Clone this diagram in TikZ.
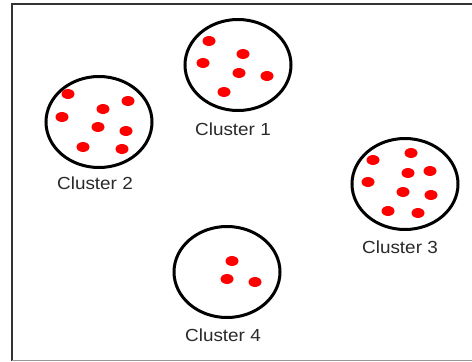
\documentclass[tikz,border=0pt]{standalone}
\usepackage{fontspec}
\setmainfont{Liberation Sans}
\usetikzlibrary{shapes.geometric}
\definecolor{labelgray}{HTML}{2A2A2A}
\begin{document}
\begin{tikzpicture}[x=1pt,y=-1pt,
  cluster/.style={ellipse,draw=black,line width=3pt,fill=white,minimum width=106pt,minimum height=91pt,inner sep=0pt},
  pt/.style={ellipse,fill=red,minimum width=13pt,minimum height=10pt,inner sep=0pt},
  lbl/.style={text=labelgray,font=\fontsize{17.5}{18}\selectfont,inner sep=0pt,xscale=1.08}]
\useasboundingbox (0,0) rectangle (472,362);
\fill[white] (0,0) rectangle (472,362);
\draw[line width=2pt,black!80] (12,360.5) |- (472,3.5);
\draw[line width=1.5pt,black!40] (12,360.5) -- (472,360.5);
% clusters
\node[cluster] (c1) at (238,65) {};
\node[cluster] (c2) at (99,122) {};
\node[cluster] (c3) at (405,184) {};
\node[cluster] (c4) at (227,272) {};
% labels
\node[lbl] (l1) at (233,129) {Cluster 1};
\node[lbl] (l2) at (95,183) {Cluster 2};
\node[lbl] (l3) at (400,247) {Cluster 3};
\node[lbl] (l4) at (223,335) {Cluster 4};
% cluster 1 points
\node[pt] (p11) at (209,41) {};
\node[pt] (p12) at (243,54) {};
\node[pt] (p13) at (203,63) {};
\node[pt] (p14) at (239,73) {};
\node[pt] (p15) at (267,76) {};
\node[pt] (p16) at (224,92) {};
% cluster 2 points
\node[pt] (p21) at (68,94) {};
\node[pt] (p22) at (128,101) {};
\node[pt] (p23) at (103,109) {};
\node[pt] (p24) at (62,117) {};
\node[pt] (p25) at (98,127) {};
\node[pt] (p26) at (126,131) {};
\node[pt] (p27) at (83,147) {};
\node[pt] (p28) at (122,149) {};
% cluster 3 points
\node[pt] (p31) at (373,160) {};
\node[pt] (p32) at (411,153) {};
\node[pt] (p33) at (430,171) {};
\node[pt] (p34) at (408,173) {};
\node[pt] (p35) at (368,182) {};
\node[pt] (p36) at (403,192) {};
\node[pt] (p37) at (431,195) {};
\node[pt] (p38) at (388,211) {};
\node[pt] (p39) at (418,213) {};
% cluster 4 points
\node[pt] (p41) at (232,261) {};
\node[pt] (p42) at (227,279) {};
\node[pt] (p43) at (255,282) {};
\end{tikzpicture}
\end{document}
